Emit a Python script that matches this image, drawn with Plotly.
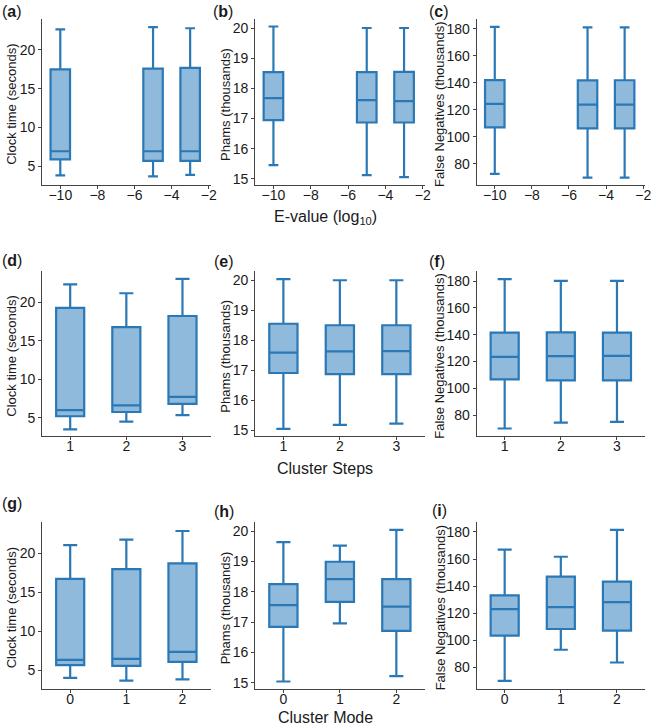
import plotly.graph_objects as go

W, H = 656, 728

# ---------------- data ----------------
evalue_x = [-10, -5, -3]
steps_x = [1, 2, 3]
mode_x = [0, 1, 2]

# Clock time (seconds)
clock_ev_low = [3.85, 3.7, 3.9]
clock_ev_q1 = [5.9, 5.7, 5.7]
clock_ev_med = [6.95, 6.95, 6.95]
clock_ev_q3 = [17.5, 17.6, 17.7]
clock_ev_up = [22.65, 22.95, 22.8]

clock_st_low = [3.5, 4.5, 5.35]
clock_st_q1 = [5.2, 5.75, 6.8]
clock_st_med = [6.0, 6.6, 7.7]
clock_st_q3 = [19.25, 16.75, 18.2]
clock_st_up = [22.3, 21.15, 23.0]

clock_md_low = [4.0, 3.65, 3.8]
clock_md_q1 = [5.65, 5.55, 6.05]
clock_md_med = [6.3, 6.45, 7.35]
clock_md_q3 = [16.7, 17.95, 18.7]
clock_md_up = [21.05, 21.75, 22.85]

# Phams (thousands)
phams_ev_low = [15.46, 15.13, 15.06]
phams_ev_q1 = [16.95, 16.87, 16.87]
phams_ev_med = [17.68, 17.61, 17.58]
phams_ev_q3 = [18.54, 18.54, 18.55]
phams_ev_up = [20.05, 20.0, 20.0]

phams_st_low = [15.05, 15.18, 15.22]
phams_st_q1 = [16.91, 16.87, 16.87]
phams_st_med = [17.59, 17.63, 17.64]
phams_st_q3 = [18.55, 18.5, 18.5]
phams_st_up = [20.04, 20.0, 20.0]

phams_md_low = [15.04, 16.96, 15.22]
phams_md_q1 = [16.84, 17.67, 16.71]
phams_md_med = [17.56, 18.42, 17.51]
phams_md_q3 = [18.25, 18.99, 18.42]
phams_md_up = [19.64, 19.52, 20.04]

# False Negatives (thousands)
fn_ev_low = [72.5, 69.8, 69.8]
fn_ev_q1 = [107.0, 106.2, 106.2]
fn_ev_med = [124.4, 123.8, 123.9]
fn_ev_q3 = [142.0, 141.8, 141.9]
fn_ev_up = [181.5, 181.0, 181.0]

fn_st_low = [70.1, 74.5, 75.0]
fn_st_q1 = [106.7, 106.0, 106.0]
fn_st_med = [123.5, 124.0, 124.2]
fn_st_q3 = [141.5, 141.7, 141.5]
fn_st_up = [181.5, 180.2, 180.2]

fn_md_low = [70.1, 93.1, 83.7]
fn_md_q1 = [103.5, 108.4, 107.2]
fn_md_med = [123.1, 124.6, 128.2]
fn_md_q3 = [133.2, 147.1, 143.4]
fn_md_up = [167.0, 161.7, 181.5]

# ---------------- styling ----------------
FILL = "#8FBADB"
EDGE = "#2A78B5"
AXC = "#444444"
TXT = "#1a1a1a"
FONT = "Liberation Sans, Arial, sans-serif"

def px_x(x):
    return x / W

def px_y(y):
    return 1 - y / H

col_dom = [(42.5, 212.5), (257.5, 428.5), (481.0, 651.0)]
row_dom = [(19.0, 185.5), (272.0, 437.5), (523.5, 690.7)]

panels = [
    (0, 0, evalue_x, (clock_ev_low, clock_ev_q1, clock_ev_med, clock_ev_q3, clock_ev_up), 1.05),
    (0, 1, evalue_x, (phams_ev_low, phams_ev_q1, phams_ev_med, phams_ev_q3, phams_ev_up), 1.05),
    (0, 2, evalue_x, (fn_ev_low, fn_ev_q1, fn_ev_med, fn_ev_q3, fn_ev_up), 1.05),
    (1, 0, steps_x, (clock_st_low, clock_st_q1, clock_st_med, clock_st_q3, clock_st_up), 0.5),
    (1, 1, steps_x, (phams_st_low, phams_st_q1, phams_st_med, phams_st_q3, phams_st_up), 0.5),
    (1, 2, steps_x, (fn_st_low, fn_st_q1, fn_st_med, fn_st_q3, fn_st_up), 0.5),
    (2, 0, mode_x, (clock_md_low, clock_md_q1, clock_md_med, clock_md_q3, clock_md_up), 0.5),
    (2, 1, mode_x, (phams_md_low, phams_md_q1, phams_md_med, phams_md_q3, phams_md_up), 0.5),
    (2, 2, mode_x, (fn_md_low, fn_md_q1, fn_md_med, fn_md_q3, fn_md_up), 0.5),
]

x_ranges = [[-10.98, -1.9], [0.5, 3.5], [-0.5, 2.5]]
x_ticks = [[-10, -8, -6, -4, -2], [1, 2, 3], [0, 1, 2]]
y_ranges = [[2.6, 24.0], [14.8, 20.3], [64.3, 187.3]]
y_ticks = [[5, 10, 15, 20], [15, 16, 17, 18, 19, 20], [80, 100, 120, 140, 160, 180]]
y_titles = ["Clock time (seconds)", "Phams (thousands)", "False Negatives (thousands)"]
y_title_x = [12, 228, 444]
x_titles = ["E-value (log<sub>10</sub>)", "Cluster Steps", "Cluster Mode"]
x_title_y = [218, 470, 719]
letters = ["a", "b", "c", "d", "e", "f", "g", "h", "i"]
letter_pos = [(0, 12), (213, 12), (431, 12),
              (0, 261), (214, 262), (431, 262),
              (0, 505), (214, 513), (434, 512)]

fig = go.Figure()
layout = dict(
    width=W, height=H,
    margin=dict(l=0, r=0, t=0, b=0),
    paper_bgcolor="white", plot_bgcolor="white",
    showlegend=False,
    font=dict(family=FONT, color=TXT),
)
annotations = []

for i, (r, c, xs, st, bw) in enumerate(panels):
    n = i + 1
    xa = "x" if n == 1 else f"x{n}"
    ya = "y" if n == 1 else f"y{n}"
    low, q1, med, q3, up = st
    fig.add_trace(go.Box(
        x=xs, lowerfence=low, q1=q1, median=med, q3=q3, upperfence=up,
        width=bw, whiskerwidth=0.5, boxpoints=False,
        fillcolor=FILL, line=dict(color=EDGE, width=2.2),
        xaxis=xa, yaxis=ya, showlegend=False,
    ))
    axcommon = dict(showline=True, linecolor=AXC, linewidth=1, ticks="outside",
                    ticklen=3, tickcolor=AXC, tickwidth=1, showgrid=False,
                    zeroline=False, tickfont=dict(size=14, family=FONT, color=TXT))
    xkey = "xaxis" if n == 1 else f"xaxis{n}"
    ykey = "yaxis" if n == 1 else f"yaxis{n}"
    cd = col_dom[c]
    rd = row_dom[r]
    layout[xkey] = dict(axcommon, domain=[px_x(cd[0]), px_x(cd[1])], range=x_ranges[r],
                        tickvals=x_ticks[r], anchor=ya, ticklabelstandoff=-6)
    layout[ykey] = dict(axcommon, domain=[px_y(rd[1]), px_y(rd[0])], range=y_ranges[c],
                        tickvals=y_ticks[c], anchor=xa)
    annotations.append(dict(text=y_titles[c], xref="paper", yref="paper",
                            x=px_x(y_title_x[c]), y=px_y((rd[0] + rd[1]) / 2 + 2),
                            xanchor="center", yanchor="middle", textangle=-90,
                            showarrow=False, font=dict(size=13, family=FONT, color=TXT)))
    lx, ly = letter_pos[i]
    annotations.append(dict(text=f"(<b>{letters[i]}</b>)", xref="paper", yref="paper",
                            x=px_x(lx), y=px_y(ly), xanchor="left", yanchor="middle",
                            showarrow=False, font=dict(size=16, family=FONT, color=TXT)))

for r in range(3):
    annotations.append(dict(text=x_titles[r], xref="paper", yref="paper",
                            x=0.5, y=px_y(x_title_y[r]), xanchor="center", yanchor="middle",
                            showarrow=False, font=dict(size=16, family=FONT, color=TXT)))

layout["annotations"] = annotations
fig.update_layout(**layout)
fig.write_html(
    "out.html",
    config={"displayModeBar": False},
    post_script="document.body.style.margin='0';document.body.style.padding='0';",
)
